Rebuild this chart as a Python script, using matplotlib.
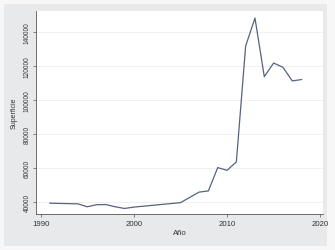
import matplotlib
matplotlib.use("Agg")
import matplotlib.pyplot as plt
from matplotlib.patches import Rectangle

years = [1991, 1994, 1995, 1996, 1997, 1998, 1999, 2000, 2005, 2007, 2008,
         2009, 2010, 2011, 2012, 2013, 2014, 2015, 2016, 2017, 2018]
superficie = [39300, 38900, 37200, 38400, 38500, 37200, 36200, 37000, 39600,
              45800, 46500, 60200, 58600, 63500, 131600, 148000, 113600,
              121600, 119100, 111100, 111900]
x_ticks = [1990, 2000, 2010, 2020]
y_ticks = [40000, 60000, 80000, 100000, 120000, 140000]

plt.rcParams['font.family'] = ['Liberation Sans', 'DejaVu Sans']

W, H = 335, 251
fig = plt.figure(figsize=(W / 100, H / 100), dpi=100)
fig.patch.set_facecolor('#f7f7f7')
# graph region (grey panel)
gl, gr, gt, gb = 4, 327, 5, 247
fig.patches.append(Rectangle((gl / W, 1 - gb / H), (gr - gl) / W, (gb - gt) / H,
                             transform=fig.transFigure, facecolor='#e8e9eb',
                             edgecolor='none', zorder=-10))

l, r, t, b = 36, 323, 12, 215
ax = fig.add_axes([l / W, 1 - b / H, (r - l) / W, (b - t) / H])
ax.set_facecolor('white')

ax.plot(years, superficie, color='#56637f', linewidth=0.9)

ax.set_xlim(1989.5, 2020.3)
ax.set_ylim(32950, 152150)
ax.set_xticks(x_ticks)
ax.set_yticks(y_ticks)
ax.set_xticklabels([str(v) for v in x_ticks], fontsize=5.6, color='#333333')
ax.set_yticklabels([str(v) for v in y_ticks], fontsize=4.7, color='#333333',
                   rotation=90, va='center')
ax.tick_params(axis='both', length=2.5, width=0.5, color='#555555', pad=1.5)
ax.grid(axis='y', color='#eeeeee', linewidth=0.6)
ax.set_axisbelow(True)
for s in ['top', 'right']:
    ax.spines[s].set_visible(False)
for s in ['left', 'bottom']:
    ax.spines[s].set_color('#555555')
    ax.spines[s].set_linewidth(0.6)

ax.set_xlabel('Año', fontsize=5.6, color='#333333', labelpad=2)
ax.set_ylabel('Superficie', fontsize=5, color='#333333', labelpad=4)

fig.savefig('out.png', dpi=100, facecolor=fig.get_facecolor())
